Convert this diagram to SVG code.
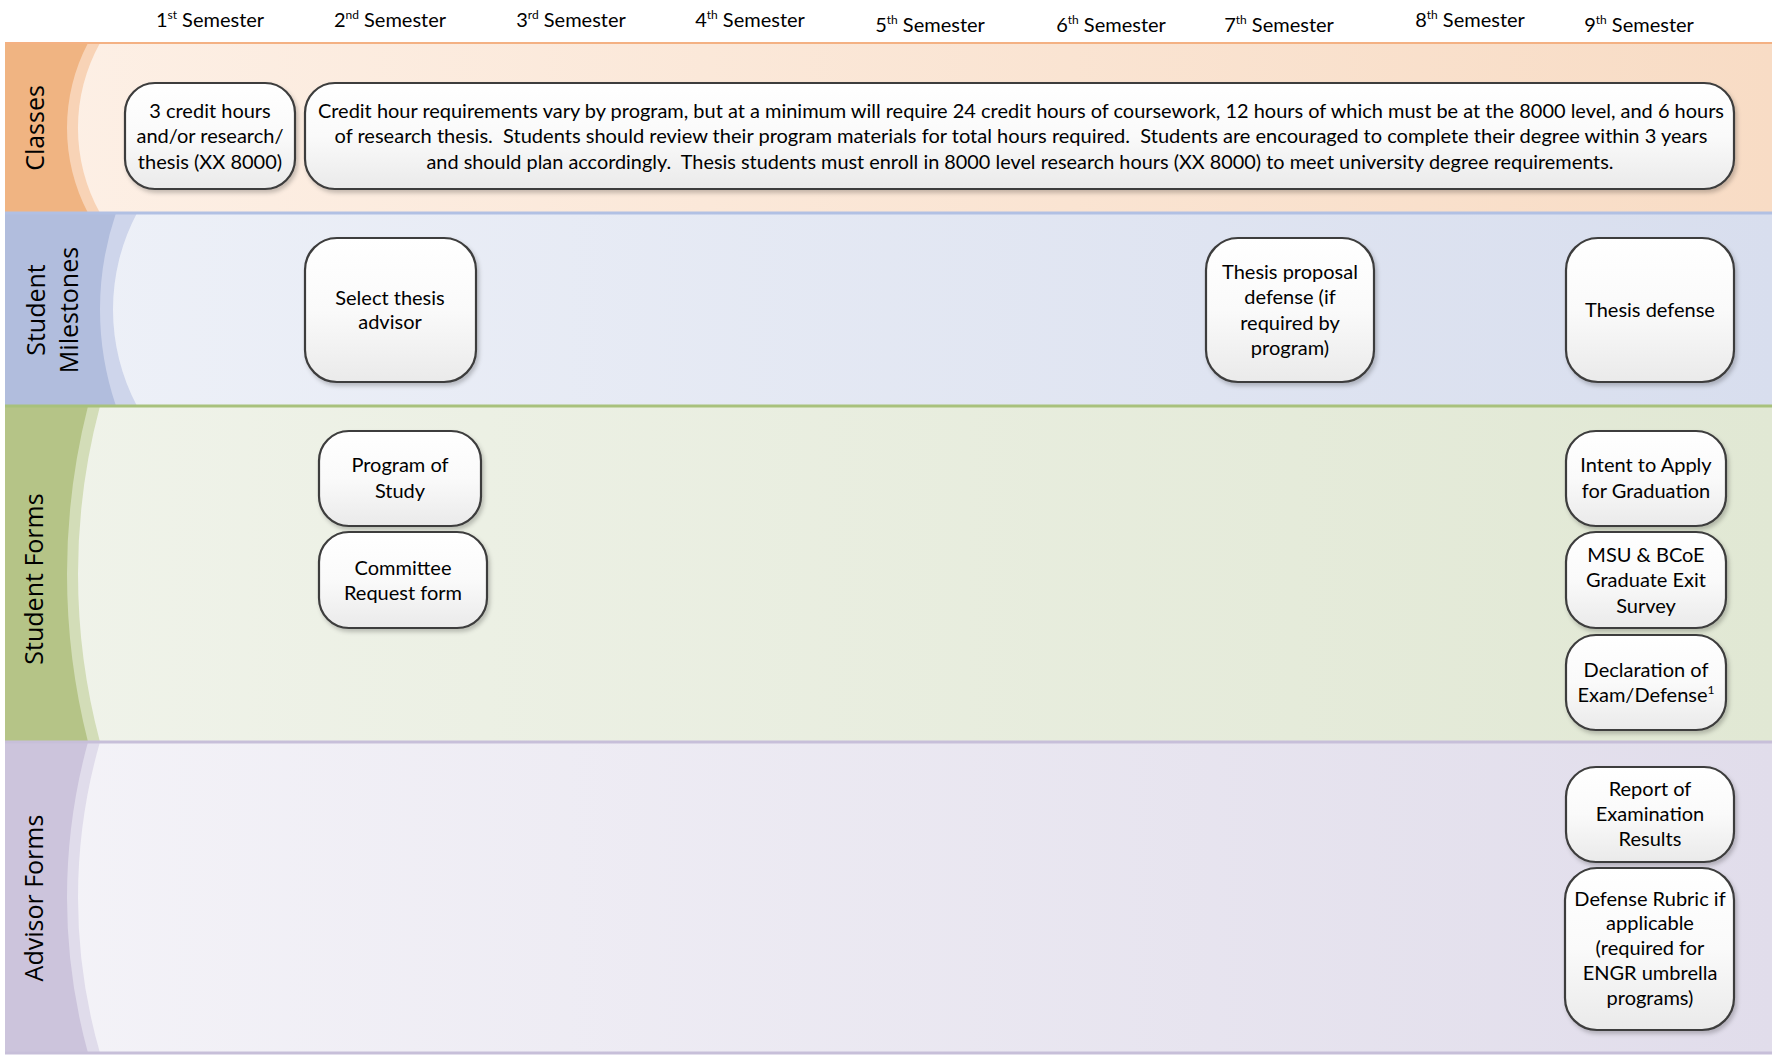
<svg xmlns="http://www.w3.org/2000/svg" width="1772" height="1055" viewBox="0 0 1772 1055">
<defs>
<linearGradient id="gC" x1="0" y1="0" x2="1" y2="0"><stop offset="0" stop-color="#FDF0E6"/><stop offset="1" stop-color="#F8DCC5"/></linearGradient>
<linearGradient id="gM" x1="0" y1="0" x2="1" y2="0"><stop offset="0" stop-color="#EEF1F8"/><stop offset="1" stop-color="#D8DEEE"/></linearGradient>
<linearGradient id="gS" x1="0" y1="0" x2="1" y2="0"><stop offset="0" stop-color="#F0F3EA"/><stop offset="1" stop-color="#E1E8D4"/></linearGradient>
<linearGradient id="gA" x1="0" y1="0" x2="1" y2="0"><stop offset="0" stop-color="#F4F3F8"/><stop offset="1" stop-color="#E1DDEB"/></linearGradient>
<linearGradient id="gBox" x1="0" y1="0" x2="0" y2="1"><stop offset="0" stop-color="#FFFFFF"/><stop offset="0.5" stop-color="#FAFAFA"/><stop offset="1" stop-color="#EAEAEA"/></linearGradient>
<filter id="sh" x="-10%" y="-10%" width="125%" height="130%"><feDropShadow dx="2" dy="3" stdDeviation="2" flood-color="#000" flood-opacity="0.22"/></filter>
</defs>
<style>
.box{fill:url(#gBox);stroke:#3C3C3C;stroke-width:2.2;filter:url(#sh)}
.t{font-family:Lato,"Liberation Sans",sans-serif;font-size:20px;fill:#000;text-anchor:middle;white-space:pre}
.sem{font-family:Lato,"Liberation Sans",sans-serif;font-size:20px;fill:#000;text-anchor:middle}
.lane{font-family:"Open Sans","Noto Sans",sans-serif;font-size:25px;fill:#000;text-anchor:middle}
.sup{font-size:12px}
</style>
<rect width="1772" height="1055" fill="#FFFFFF"/>

<g id="lane-classes">
<rect x="5" y="43" width="1767" height="170" fill="url(#gC)"/>
<path d="M5,43 H100 A175 175 0 0 0 100,213 H5 Z" fill="#F8D3B6"/>
<path d="M5,43 H88 A182.5 182.5 0 0 0 88,213 H5 Z" fill="#F0B482"/>
<text class="lane" transform="translate(44,128) rotate(-90)">Classes</text>
</g>
<g id="lane-milestones">
<rect x="5" y="213" width="1767" height="193" fill="url(#gM)"/>
<path d="M5,213 H137 A206 206 0 0 0 137,406 H5 Z" fill="#CED5EB"/>
<path d="M5,213 H116 A299 299 0 0 0 116,406 H5 Z" fill="#B1BDDD"/>
<text class="lane" transform="translate(45,310) rotate(-90)">Student</text>
<text class="lane" transform="translate(78,310) rotate(-90)">Milestones</text>
</g>
<g id="lane-studentforms">
<rect x="5" y="406" width="1767" height="336" fill="url(#gS)"/>
<path d="M5,406 H100 A652.5 652.5 0 0 0 100,742 H5 Z" fill="#D3DDB8"/>
<path d="M5,406 H88 A682.5 682.5 0 0 0 88,742 H5 Z" fill="#B5C487"/>
<text class="lane" transform="translate(43,579) rotate(-90)">Student Forms</text>
</g>
<g id="lane-advisorforms">
<rect x="5" y="742" width="1767" height="311" fill="url(#gA)"/>
<path d="M5,742 H100 A560.5 560.5 0 0 0 100,1053 H5 Z" fill="#E0DCEB"/>
<path d="M5,742 H88 A586 586 0 0 0 88,1053 H5 Z" fill="#CCC4DC"/>
<text class="lane" transform="translate(43,898) rotate(-90)">Advisor Forms</text>
</g>
<g id="lane-lines">
<line x1="5" y1="43" x2="1772" y2="43" stroke="#F4B183" stroke-width="2"/>
<line x1="5" y1="213" x2="1772" y2="213" stroke="#B1C0E3" stroke-width="3"/>
<line x1="5" y1="406" x2="1772" y2="406" stroke="#A8C17C" stroke-width="3"/>
<line x1="5" y1="742" x2="1772" y2="742" stroke="#C7BFD9" stroke-width="3"/>
<line x1="5" y1="1053" x2="1772" y2="1053" stroke="#C7BFD9" stroke-width="3"/>
</g>

<g id="semesters">
<text class="sem" x="210" y="27">1<tspan class="sup" dy="-8">st</tspan><tspan dy="8"> Semester</tspan></text>
<text class="sem" x="390" y="27">2<tspan class="sup" dy="-8">nd</tspan><tspan dy="8"> Semester</tspan></text>
<text class="sem" x="571" y="27">3<tspan class="sup" dy="-8">rd</tspan><tspan dy="8"> Semester</tspan></text>
<text class="sem" x="750" y="27">4<tspan class="sup" dy="-8">th</tspan><tspan dy="8"> Semester</tspan></text>
<text class="sem" x="930" y="32">5<tspan class="sup" dy="-8">th</tspan><tspan dy="8"> Semester</tspan></text>
<text class="sem" x="1111" y="32">6<tspan class="sup" dy="-8">th</tspan><tspan dy="8"> Semester</tspan></text>
<text class="sem" x="1279" y="32">7<tspan class="sup" dy="-8">th</tspan><tspan dy="8"> Semester</tspan></text>
<text class="sem" x="1470" y="27">8<tspan class="sup" dy="-8">th</tspan><tspan dy="8"> Semester</tspan></text>
<text class="sem" x="1639" y="32">9<tspan class="sup" dy="-8">th</tspan><tspan dy="8"> Semester</tspan></text>
</g>

<g id="connectors"></g>

<g id="n-credit3">
<rect class="box" x="125" y="83" width="170" height="106" rx="30"/>
<text class="t" x="210" y="118">3 credit hours</text>
<text class="t" x="210" y="143">and/or research/</text>
<text class="t" x="210" y="169">thesis (XX 8000)</text>
</g>
<g id="n-credit-req">
<rect class="box" x="305" y="83" width="1429" height="106" rx="30"/>
<text class="t" x="1021" y="118" textLength="1406" lengthAdjust="spacingAndGlyphs">Credit hour requirements vary by program, but at a minimum will require 24 credit hours of coursework, 12 hours of which must be at the 8000 level, and 6 hours</text>
<text class="t" x="1021" y="143" textLength="1373" lengthAdjust="spacingAndGlyphs">of research thesis.  Students should review their program materials for total hours required.  Students are encouraged to complete their degree within 3 years</text>
<text class="t" x="1020" y="169" textLength="1187" lengthAdjust="spacingAndGlyphs">and should plan accordingly.  Thesis students must enroll in 8000 level research hours (XX 8000) to meet university degree requirements.</text>
</g>
<g id="n-select-advisor">
<rect class="box" x="305" y="238" width="171" height="144" rx="32"/>
<text class="t" x="390" y="305">Select thesis</text>
<text class="t" x="390" y="329">advisor</text>
</g>
<g id="n-proposal-defense">
<rect class="box" x="1206" y="238" width="168" height="144" rx="32"/>
<text class="t" x="1290" y="279">Thesis proposal</text>
<text class="t" x="1290" y="304">defense (if</text>
<text class="t" x="1290" y="330">required by</text>
<text class="t" x="1290" y="355">program)</text>
</g>
<g id="n-thesis-defense">
<rect class="box" x="1566" y="238" width="168" height="144" rx="32"/>
<text class="t" x="1650" y="317">Thesis defense</text>
</g>
<g id="n-program-study">
<rect class="box" x="319" y="431" width="162" height="95" rx="30"/>
<text class="t" x="400" y="472">Program of</text>
<text class="t" x="400" y="498">Study</text>
</g>
<g id="n-committee">
<rect class="box" x="319" y="532" width="168" height="96" rx="30"/>
<text class="t" x="403" y="575">Committee</text>
<text class="t" x="403" y="600">Request form</text>
</g>
<g id="n-intent">
<rect class="box" x="1566" y="431" width="160" height="95" rx="30"/>
<text class="t" x="1646" y="472">Intent to Apply</text>
<text class="t" x="1646" y="498">for Graduation</text>
</g>
<g id="n-exit-survey">
<rect class="box" x="1566" y="532" width="160" height="96" rx="30"/>
<text class="t" x="1646" y="562">MSU &amp; BCoE</text>
<text class="t" x="1646" y="587">Graduate Exit</text>
<text class="t" x="1646" y="613">Survey</text>
</g>
<g id="n-declaration">
<rect class="box" x="1566" y="635" width="160" height="95" rx="30"/>
<text class="t" x="1646" y="677">Declaration of</text>
<text class="t" x="1646" y="702">Exam/Defense<tspan class="sup" dy="-8">1</tspan></text>
</g>
<g id="n-report">
<rect class="box" x="1566" y="767" width="168" height="95" rx="30"/>
<text class="t" x="1650" y="796">Report of</text>
<text class="t" x="1650" y="821">Examination</text>
<text class="t" x="1650" y="846">Results</text>
</g>
<g id="n-rubric">
<rect class="box" x="1565" y="868" width="169" height="162" rx="32"/>
<text class="t" x="1650" y="906">Defense Rubric if</text>
<text class="t" x="1650" y="930">applicable</text>
<text class="t" x="1650" y="955">(required for</text>
<text class="t" x="1650" y="980">ENGR umbrella</text>
<text class="t" x="1650" y="1005">programs)</text>
</g>
</svg>
